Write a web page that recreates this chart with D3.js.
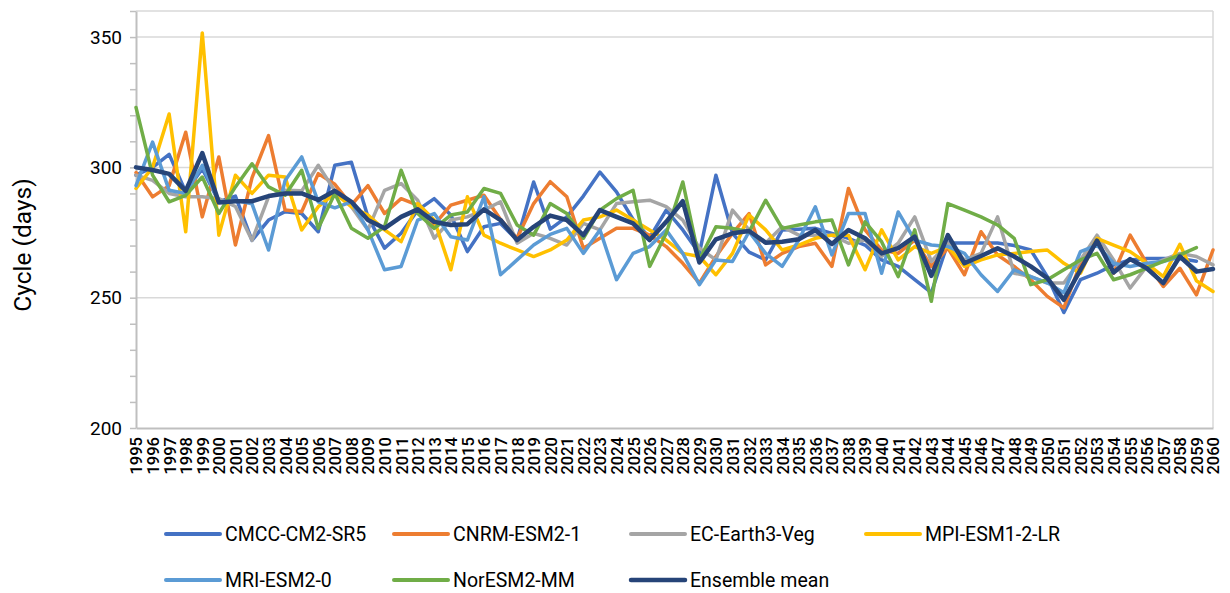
<!DOCTYPE html>
<html>
<head>
<meta charset="utf-8">
<script src="https://cdn.jsdelivr.net/npm/d3@7"></script>
<style>
  body { margin: 0; background: #fff; }
  text { font-family: Roboto, "Noto Sans", sans-serif; fill: #000; }
</style>
</head>
<body>
<div id="chart"></div>
<script>
// years on the category axis
const years = d3.range(1995, 2061).map(String);

const cmcc = [297, 300, 305, 290.6, 299.5, 286.8, 289, 272, 279.8, 283, 282.3, 275.3, 300.8, 302, 281, 269, 274.7, 283.6, 288, 281.7,
  267.7, 277.2, 278.5, 272.1, 294.4, 276.3, 281, 289, 298.2, 290.6, 280, 273, 283.6, 276, 267, 297, 274.7, 267.5, 264.5, 276,
  276.3, 276.6, 274.7, 272.8, 270.2, 264.5, 262, 256.9, 251.9, 271, 271, 271, 271, 270, 268.3, 258.1, 244.3, 256.9, 259.4, 262.6,
  264.5, 265, 265, 265, 264];
const cnrm = [298, 288.7, 293, 313.5, 281, 304, 270.2, 296, 312.2, 283.6, 283, 297.6, 293.5, 285.5, 293, 282.3, 288, 285.5, 278, 285.5,
  287.4, 289.3, 280, 272.8, 286.1, 294.5, 288.7, 269, 272.8, 276.6, 276.6, 274, 269.6, 263.2, 255.6, 265.8, 274.7, 282.3, 262.6, 267,
  269.6, 270.9, 262, 291.9, 276, 268.3, 267, 272.1, 262, 269, 258.8, 275.3, 266.4, 262, 256.9, 250.5, 246.1, 263.2, 272.1, 259.4,
  274, 263.2, 254.3, 261.3, 251.1, 268.3];
const ecEarth = [297, 295, 290, 288.7, 288.7, 288, 285, 272, 288.7, 291.2, 291, 300.8, 291, 284.9, 276, 291.2, 293.8, 287.4, 272.8, 279.8,
  281, 283.6, 286.8, 270.9, 274.7, 272.8, 270.2, 278.5, 276, 286.1, 286.8, 287.4, 284.9, 279.8, 269, 264.5, 283.6, 276, 271, 277.2,
  274, 274, 274, 270.9, 272.1, 265.8, 270.9, 281, 263.9, 270.9, 264.5, 267, 281, 259.4, 258.1, 255.6, 255.6, 264.5, 274, 264.5,
  253.7, 262, 264.5, 267, 265.8, 262.6];
const mpi = [291.9, 300, 320.5, 275.3, 351.6, 274, 297, 290, 297, 296.3, 276, 284.9, 290, 284.9, 281.7, 276, 271.5, 286.1, 279.8, 260.7,
  288.7, 274, 270.9, 268.3, 265.8, 268.3, 272.1, 279.8, 281, 283.6, 279.8, 276, 272.1, 267, 265.8, 258.8, 267, 281.7, 276, 268.3,
  270.2, 272.8, 274, 274, 260.7, 276, 264.5, 269.6, 267, 269.6, 262, 264.5, 266.4, 267, 267.7, 268.3, 263.2, 259.4, 272.8, 270.2,
  267.7, 263.2, 258.1, 270.5, 256.5, 252.4];
const mri = [293, 309.7, 291.2, 290, 300.8, 286.8, 287.4, 286, 268.3, 295, 304, 286.8, 284.5, 286.8, 276, 260.7, 262, 279.8, 282.3, 273.4,
  272.1, 288.7, 258.8, 264.5, 270.2, 274.3, 276.6, 267, 276, 256.9, 267, 269.6, 276, 267, 255, 264.5, 263.9, 275.3, 267, 262,
  272.1, 284.9, 266.4, 282.3, 282.3, 259.4, 282.9, 272.1, 270.2, 269.6, 267, 258.8, 252.4, 260.7, 258.1, 255.7, 251.9, 267.7, 270.2, 263.2,
  262, 263.2, 263.9, 265.8, 260.7];
const norEsm = [323, 297, 286.8, 289.3, 296.3, 282.3, 292.5, 301.4, 292.5, 289.3, 298.9, 276.6, 290, 276.6, 272.8, 277.2, 298.9, 282.3, 276.6, 281.7,
  282.9, 291.9, 290, 277.9, 274, 286.1, 282.3, 272.8, 283.6, 288, 291.2, 262, 274.7, 294.4, 264.5, 277.2, 276.6, 275.3, 287.4, 276.6,
  277.9, 279.1, 279.8, 262.6, 279.1, 271.5, 258.1, 276, 248.6, 286.1, 283.6, 281, 277.9, 272.8, 255, 256.9, 260.7, 264.5, 267, 256.9,
  258.8, 261.3, 263.9, 266.4, 269.2];
const ensemble = [300, 299, 297.5, 291, 305.5, 286.5, 287, 287, 289, 290, 290, 287.5, 291, 286.8, 279.8, 276.6, 281, 283.9, 279.1, 277.9,
  278.2, 283.9, 279.8, 272.1, 277.2, 281.5, 279.8, 274, 283.6, 281, 278.5, 272.1, 279.1, 287, 263.5, 272.4, 274.7, 275.6, 271.1, 271.5,
  272.4, 276, 270.6, 276, 272.8, 267, 269, 273.4, 258.4, 274, 263.2, 266, 269, 265.8, 262, 257.5, 249.2, 260.7, 271.9, 259.7,
  264.8, 261.3, 255.6, 265.8, 260, 261];

const seriesNames = ['CMCC-CM2-SR5', 'CNRM-ESM2-1', 'EC-Earth3-Veg', 'MPI-ESM1-2-LR', 'MRI-ESM2-0', 'NorESM2-MM', 'Ensemble mean'];
const seriesValues = [cmcc, cnrm, ecEarth, mpi, mri, norEsm, ensemble];
const seriesColors = ['#4472c4', '#ed7d31', '#a5a5a5', '#ffc000', '#5b9bd5', '#70ad47', '#264478'];

const yMajor = [200, 250, 300, 350];
const yTitle = 'Cycle (days)';

const width = 1230, height = 593;
const plotLeft = 136, plotRight = 1213, plotTop = 11, plotBottom = 428;

const svg = d3.select('#chart').append('svg')
  .attr('width', width)
  .attr('height', height);

const x = d3.scalePoint().domain(years).range([plotLeft, plotRight]);
const y = d3.scaleLinear().domain([200, 360]).range([plotBottom, plotTop]);

// gridlines
svg.append('g')
  .selectAll('line')
  .data([250, 300, 350, 360])
  .join('line')
  .attr('x1', plotLeft).attr('x2', plotRight)
  .attr('y1', d => y(d)).attr('y2', d => y(d))
  .attr('stroke', '#d9d9d9')
  .attr('stroke-width', 1.5);

// right border of plot area
svg.append('line')
  .attr('x1', plotRight).attr('x2', plotRight)
  .attr('y1', plotTop).attr('y2', plotBottom)
  .attr('stroke', '#d9d9d9')
  .attr('stroke-width', 1.5);

// y axis, minor ticks every 10
const yAxis = svg.append('g')
  .attr('transform', `translate(${plotLeft},0)`)
  .call(d3.axisLeft(y).tickValues(d3.range(200, 361, 10)).tickSize(6).tickSizeOuter(0)
    .tickFormat(d => yMajor.includes(d) ? d : ''));
yAxis.select('.domain').attr('stroke', '#bfbfbf').attr('stroke-width', 2);
yAxis.selectAll('.tick line').attr('stroke', '#bfbfbf').attr('stroke-width', 1.5);
yAxis.selectAll('.tick text')
  .attr('x', -14)
  .style('font-family', 'Roboto, sans-serif')
  .style('font-size', '19px')
  .attr('fill', '#000');

// x axis
const xAxis = svg.append('g')
  .attr('transform', `translate(0,${plotBottom})`)
  .call(d3.axisBottom(x).tickSize(0).tickSizeOuter(0));
xAxis.select('.domain').attr('stroke', '#bfbfbf').attr('stroke-width', 2);
xAxis.selectAll('.tick text')
  .attr('transform', 'rotate(-90)')
  .attr('text-anchor', 'end')
  .attr('x', -9)
  .attr('y', 0)
  .attr('dy', '0.36em')
  .style('font-family', 'Roboto, sans-serif')
  .style('font-size', '16.5px')
  .style('font-weight', 500)
  .attr('fill', '#000');

// y title
svg.append('text')
  .attr('transform', 'translate(31,245) rotate(-90)')
  .attr('text-anchor', 'middle')
  .style('font-size', '24.5px')
  .text(yTitle);

// lines
const line = d3.line()
  .x((d, i) => x(years[i]))
  .y(d => y(d));

svg.append('g')
  .selectAll('path')
  .data(seriesValues)
  .join('path')
  .attr('d', d => line(d))
  .attr('fill', 'none')
  .attr('stroke', (d, i) => seriesColors[i])
  .attr('stroke-width', (d, i) => i === 6 ? 4.5 : 3.5)
  .attr('stroke-linejoin', 'round')
  .attr('stroke-linecap', 'round');

// legend
const legendPos = [[166, 534], [394, 534], [631, 534], [866, 534], [166, 580], [394, 580], [631, 580]];
const legend = svg.append('g')
  .selectAll('g')
  .data(seriesNames)
  .join('g')
  .attr('transform', (d, i) => `translate(${legendPos[i][0]},${legendPos[i][1]})`);

legend.append('line')
  .attr('x1', 0).attr('x2', 54)
  .attr('stroke', (d, i) => seriesColors[i])
  .attr('stroke-width', (d, i) => i === 6 ? 4.5 : 4)
  .attr('stroke-linecap', 'round');

legend.append('text')
  .attr('transform', 'translate(59,0) scale(0.93,1)')
  .attr('dy', '0.35em')
  .style('font-size', '21px')
  .text(d => d);
</script>
</body>
</html>
